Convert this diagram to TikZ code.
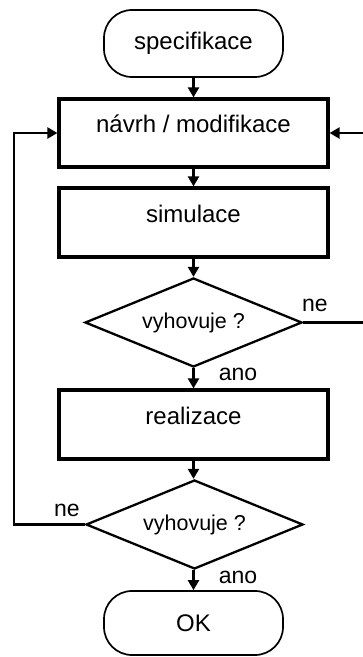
\documentclass[tikz,border=0pt]{standalone}
\usepackage{fontspec}
\setmainfont{Liberation Sans}
\usetikzlibrary{shapes.geometric,arrows.meta}
\begin{document}
\begin{tikzpicture}[x=1pt,y=1pt,
  term/.style={draw, line width=1.7pt, rounded corners=28pt, minimum width=179pt, inner sep=0pt, font=\fontsize{24}{24}\selectfont},
  procbox/.style={draw, line width=3.2pt, minimum width=269pt, minimum height=68pt, inner sep=0pt, text height=12pt, text depth=12pt, font=\fontsize{24}{24}\selectfont},
  decision/.style={draw, diamond, shape aspect=2.44, line width=2.3pt, minimum width=217pt, minimum height=89pt, inner sep=0pt, font=\fontsize{21.5}{21.5}\selectfont},
  lbl/.style={font=\fontsize{23}{23}\selectfont, inner sep=0pt},
  conn/.style={line width=2.3pt, -{Triangle[length=10pt,width=11pt]}},
  plain/.style={line width=2.3pt}]
\clip (0,0) rectangle (363,657);
\useasboundingbox (0,0) rectangle (363,657);
\node[term, minimum height=67pt] (spec) at (193.5,613.5) {specifikace};
\node[procbox] (navrh) at (193.5,524) {návrh / modifikace};
\node[procbox, minimum height=69pt] (sim) at (193.5,434.5) {simulace};
\node[decision] (d1) at (193.5,334.5) {vyhovuje ?};
\node[procbox, minimum height=69pt] (real) at (193.5,232.5) {realizace};
\node[decision] (d2) at (194.5,132.5) {vyhovuje ?};
\node[term, minimum height=64pt] (ok) at (193.5,34) {OK};
\coordinate (r1) at (368,334.5);
\coordinate (r2) at (368,524);
\coordinate (l1) at (14,132.5);
\coordinate (l2) at (14,524);
\draw[conn] (spec) -- (navrh);
\draw[conn] (navrh) -- (sim);
\draw[conn] (sim) -- (d1);
\draw[conn] (d1) -- (real);
\draw[conn] (real) -- (d2.north -| real.south);
\draw[conn] (d2.south -| ok.north) -- (ok);
\draw[conn] (d1.east) -- (r1) -- (r2) -- (navrh.east);
\draw[conn] (d2.west) -- (l1) -- (l2) -- (navrh.west);
\node[lbl] (ne1) at (315,352) {ne};
\node[lbl] (ano1) at (238,283) {ano};
\node[lbl] (ne2) at (67,147) {ne};
\node[lbl] (ano2) at (238,80) {ano};
\end{tikzpicture}
\end{document}
